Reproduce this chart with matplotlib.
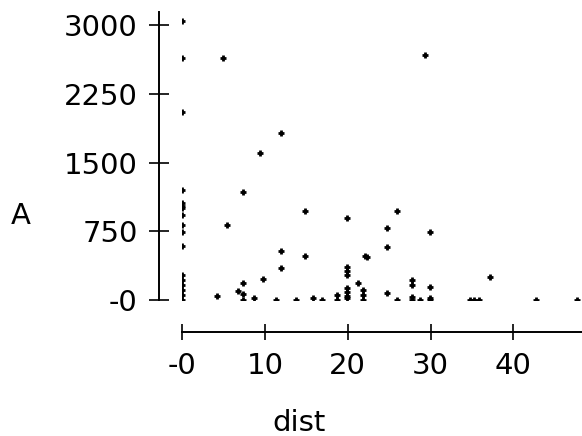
import numpy as np
import matplotlib.pyplot as plt
import matplotlib.ticker as ticker

# data
dist = [0, 0, 0, 0, 0, 0, 0, 0, 0, 0, 0, 0, 0, 0, 0, 0, 0,
        4.9, 11.9, 9.4, 29.3, 7.4, 5.4, 11.9, 11.9, 9.8, 7.4, 6.8, 7.4, 7.4,
        4.2, 8.7, 11.3, 13.8, 14.8, 19.9, 25.9, 24.8, 29.9, 24.8, 14.8,
        22.1, 22.3, 19.9, 19.9, 19.9, 21.3, 21.9, 21.9, 21.9,
        19.9, 19.9, 19.9, 19.9, 18.7, 18.7, 15.8, 16.9, 24.8, 25.9,
        27.8, 27.8, 27.8, 27.8, 28.7, 29.9, 29.9, 29.9,
        37.2, 34.7, 35.3, 35.9, 42.7, 47.7]
A = [3050, 2647, 2054, 1200, 1055, 1030, 1000, 927, 818, 745, 589, 273, 218, 164, 109, 55, 0,
     2647, 1825, 1610, 2673, 1175, 818, 535, 353, 225, 182, 98, 65, 0,
     47, 18, 0, 0, 970, 891, 971, 789, 738, 582, 480,
     480, 470, 364, 320, 273, 182, 109, 55, 0,
     131, 87, 44, 18, 55, 0, 18, 0, 73, 0,
     218, 160, 36, 0, 0, 145, 18, 0,
     255, 0, 0, 0, 0, 0]

xticks = [0, 10, 20, 30, 40]
xlabels = ['-0', '10', '20', '30', '40']
yticks = [0, 750, 1500, 2250, 3000]
ylabels = ['-0', '750', '1500', '2250', '3000']

plt.rcParams['font.family'] = 'DejaVu Sans'
plt.rcParams['font.size'] = 21

fig = plt.figure(figsize=(5.82, 4.36), dpi=100)
ax = fig.add_axes([182 / 582, 136 / 436, 406 / 582, 288.3 / 436])

ax.plot(dist, A, linestyle='none', marker='+', color='black', markersize=5, markeredgewidth=2)

ax.set_xlim(0, 49)
ax.set_ylim(0, 3150)

for s in ['top', 'right']:
    ax.spines[s].set_visible(False)
ax.spines['left'].set_position(('outward', 16.8))
ax.spines['bottom'].set_position(('outward', 22.8))
ax.spines['left'].set_linewidth(1.4)
ax.spines['bottom'].set_linewidth(1.4)

ax.xaxis.set_major_locator(ticker.FixedLocator(xticks))
ax.xaxis.set_major_formatter(ticker.FixedFormatter(xlabels))
ax.yaxis.set_major_locator(ticker.FixedLocator(yticks))
ax.yaxis.set_major_formatter(ticker.FixedFormatter(ylabels))
ax.tick_params(axis='x', direction='inout', length=11.5, width=1.2, pad=9)
ax.tick_params(axis='y', direction='inout', length=14, width=1.2, pad=8)

ax.set_xlabel('dist')
ax.xaxis.set_label_coords((299 - 182) / 406, -(431 - 300) / 288.3)
ax.xaxis.label.set_va('baseline')
ax.set_ylabel('A', rotation=0)
ax.yaxis.set_label_coords((21 - 182) / 406, (300 - 216) / 288.3)
ax.yaxis.label.set_ha('center')
ax.yaxis.label.set_va('center')

fig.savefig('out.png', dpi=100)
